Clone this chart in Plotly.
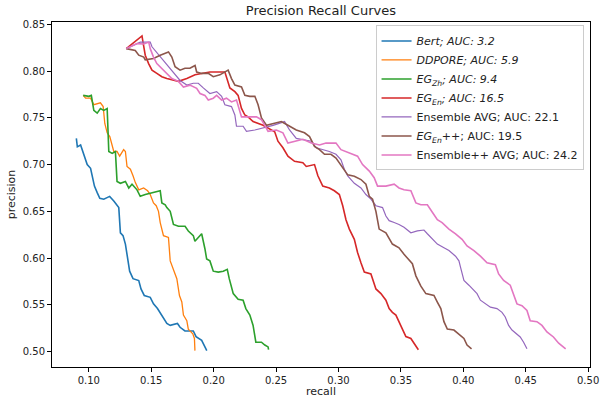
import plotly.graph_objects as go

# values
bert_x = [.0900, .0908, .0934, .0947, .0974, .0987, .1014, .1027, .1045, .1067, .1088, .1120, .1167,
          .1200, .1226, .1240, .1253, .1274, .1293, .1306, .1327, .1354, .1400, .1418, .1444, .1492,
          .1518, .1550, .1585, .1625, .1652, .1710, .1731, .1770, .1837, .1859, .1904, .1931, .1945]
bert_y = [.728, .719, .721, .716, .707, .700, .696, .689, .677, .670, .664, .663, .666,
          .661, .656, .654, .627, .624, .615, .602, .586, .578, .576, .567, .560, .558,
          .551, .546, .539, .530, .528, .530, .526, .522, .522, .516, .512, .505, .501]

ddpore_x = [.0955, .0974, .1014, .1040, .1093, .1115, .1128, .1147, .1168, .1187, .1200, .1226, .1247,
            .1279, .1293, .1306, .1333, .1354, .1372, .1400, .1439, .1471, .1492, .1518, .1540, .1558,
            .1572, .1598, .1638, .1652, .1678, .1705, .1726, .1745, .1758, .1785, .1797, .1833, .1846, .1850]
ddpore_y = [.774, .771, .771, .764, .766, .762, .744, .734, .730, .721, .714, .714, .709,
            .716, .714, .698, .695, .688, .681, .673, .675, .672, .668, .659, .656, .650,
            .638, .624, .622, .597, .588, .578, .560, .553, .539, .533, .524, .519, .514, .501]

egzh_x = [.0955, .1000, .1020, .1040, .1067, .1093, .1120, .1147, .1160, .1187, .1213, .1226, .1253,
          .1293, .1320, .1346, .1386, .1412, .1452, .1506, .1572, .1585, .1612, .1625, .1652, .1678,
          .1718, .1771, .1797, .1837, .1850, .1877, .1904, .1930, .1944, .1970, .1997, .2037, .2077,
          .2109, .2125, .2157, .2196, .2236, .2258, .2290, .2316, .2338, .2383, .2410, .2436, .2440]
egzh_y = [.774, .773, .774, .758, .755, .760, .758, .760, .714, .712, .714, .682, .680,
          .682, .675, .679, .673, .666, .668, .670, .672, .659, .657, .654, .650, .636,
          .634, .634, .629, .624, .618, .622, .626, .610, .599, .597, .586, .585, .586,
          .588, .578, .562, .556, .555, .546, .539, .528, .510, .510, .507, .505, .502]

egen_x = [.1300, .1426, .1434, .1452, .1479, .1506, .1545, .1585, .1625, .1678, .1718, .1785, .1851,
          .1904, .1970, .2050, .2090, .2130, .2170, .2196, .2223, .2250, .2276, .2316, .2356, .2396,
          .2489, .2515, .2555, .2595, .2648, .2715, .2742, .2808, .2835, .2874, .2927, .2967, .3007,
          .3034, .3060, .3087, .3127, .3153, .3180, .3207, .3260, .3286, .3300, .3340, .3380, .3406,
          .3432, .3460, .3485, .3512, .3540, .3580, .3605, .3632, .3640]
egen_y = [.824, .8376, .831, .817, .808, .801, .7975, .794, .792, .790, .789, .792, .796,
          .7975, .799, .799, .799, .782, .778, .774, .760, .753, .751, .746, .744, .742,
          .735, .725, .718, .709, .7035, .702, .698, .700, .688, .677, .675, .672, .668,
          .656, .641, .631, .620, .606, .595, .585, .583, .574, .567, .562, .555, .546,
          .542, .539, .532, .524, .516, .514, .509, .504, .502]

ens_x = [.1300, .1359, .1412, .1492, .1506, .1731, .1785, .1837, .1877, .1917, .1970, .2024, .2064,
         .2090, .2143, .2170, .2183, .2236, .2263, .2330, .2396, .2476, .2568, .2608, .2662, .2715,
         .2782, .2822, .2874, .2927, .2980, .3020, .3047, .3074, .3127, .3180, .3220, .3260, .3300,
         .3353, .3380, .3406, .3446, .3485, .3525, .3580, .3632, .3685, .3712, .3752, .3792, .3845,
         .3885, .3938, .3965, .3978, .4005, .4045, .4085, .4110, .4137, .4177, .4217, .4270, .4310,
         .4336, .4363, .4390, .4430, .4456, .4483, .4510]
ens_y = [.824, .828, .831, .831, .826, .790, .785, .787, .787, .782, .776, .778, .773,
         .764, .762, .753, .741, .741, .7355, .737, .739, .742, .746, .737, .728, .727,
         .725, .718, .716, .714, .711, .705, .695, .688, .680, .675, .668, .663, .656,
         .654, .645, .640, .638, .636, .633, .627, .629, .630, .626, .620, .615, .611,
         .608, .602, .597, .590, .576, .571, .565, .562, .555, .551, .5475, .546, .542,
         .537, .528, .523, .519, .5156, .510, .503]

egenpp_x = [.1300, .1372, .1400, .1440, .1452, .1518, .1572, .1638, .1665, .1691, .1731, .1770, .1810,
            .1851, .1864, .1904, .1957, .1997, .2050, .2116, .2143, .2170, .2223, .2250, .2290, .2330,
            .2356, .2383, .2423, .2476, .2542, .2595, .2662, .2728, .2768, .2808, .2848, .2888, .2940,
            .2980, .3007, .3047, .3074, .3127, .3180, .3220, .3247, .3273, .3300, .3326, .3380, .3432,
            .3485, .3525, .3592, .3620, .3660, .3700, .3765, .3792, .3820, .3845, .3872, .3925, .3965,
            .4005, .4030, .4066]
egenpp_y = [.824, .822, .817, .815, .812, .8135, .817, .8205, .815, .8046, .801, .803, .803,
            .806, .799, .7975, .7975, .794, .796, .801, .792, .785, .783, .774, .773, .773,
            .764, .750, .742, .744, .746, .742, .737, .734, .730, .7195, .716, .711, .711,
            .707, .702, .695, .689, .6876, .684, .679, .666, .663, .650, .631, .627, .615,
            .611, .604, .594, .581, .570, .562, .560, .553, .546, .532, .524, .523, .519,
            .514, .507, .503]

enspp_x = [.1300, .1386, .1440, .1480, .1492, .1518, .1545, .1585, .1625, .1665, .1718, .1758, .1810,
           .1864, .1891, .1930, .1957, .1997, .2024, .2064, .2103, .2143, .2183, .2210, .2223, .2290,
           .2343, .2383, .2410, .2436, .2502, .2555, .2595, .2662, .2715, .2782, .2848, .2900, .2980,
           .3020, .3060, .3113, .3153, .3193, .3247, .3286, .3313, .3380, .3446, .3485, .3525, .3580,
           .3620, .3660, .3712, .3752, .3792, .3830, .3885, .3938, .3990, .4030, .4085, .4137, .4190,
           .4257, .4283, .4323, .4376, .4430, .4470, .4510, .4536, .4590, .4630, .4670, .4722, .4764,
           .4800, .4820]
enspp_y = [.824, .8294, .829, .831, .824, .815, .808, .803, .7975, .792, .789, .783, .785,
           .7816, .776, .774, .769, .771, .774, .769, .771, .767, .769, .757, .751, .751,
           .751, .748, .741, .7355, .737, .734, .723, .725, .727, .723, .721, .723, .723,
           .716, .714, .711, .709, .700, .693, .686, .677, .677, .679, .675, .673, .672,
           .659, .657, .657, .649, .641, .638, .631, .626, .620, .613, .608, .602, .595,
           .593, .583, .576, .571, .551, .549, .544, .533, .532, .528, .521, .5156, .509,
           .505, .503]

names = ["<i>Bert; AUC: 3.2</i>",
         "<i>DDPORE; AUC: 5.9</i>",
         "<i>EG<sub>Zh</sub>; AUC: 9.4</i>",
         "<i>EG<sub>En</sub>; AUC: 16.5</i>",
         "Ensemble AVG; AUC: 22.1",
         "<i>EG<sub>En</sub></i>++; AUC: 19.5",
         "Ensemble++ AVG; AUC: 24.2"]
colors = ["#1f77b4", "#ff7f0e", "#2ca02c", "#d62728", "#9467bd", "#8c564b", "#e377c2"]
widths = [1.6, 1.3, 1.6, 1.6, 1.2, 1.6, 1.6]
xs = [bert_x, ddpore_x, egzh_x, egen_x, ens_x, egenpp_x, enspp_x]
ys = [bert_y, ddpore_y, egzh_y, egen_y, ens_y, egenpp_y, enspp_y]

fig = go.Figure()
for x, y, n, c, w in zip(xs, ys, names, colors, widths):
    fig.add_trace(go.Scatter(x=x, y=y, mode="lines", name=n,
                             line=dict(color=c, width=w)))

axis_common = dict(showline=True, linecolor="black", linewidth=1, mirror=True,
                   ticks="outside", ticklen=4, tickcolor="black", showgrid=False,
                   zeroline=False, tickfont=dict(size=10, color="#222"),
                   tickformat=".2f", automargin=False)

fig.update_xaxes(range=[0.0705, 0.5015], tickvals=[0.10, 0.15, 0.20, 0.25, 0.30, 0.35, 0.40, 0.45, 0.50],
                 title=dict(text="recall", font=dict(size=11, color="#222"), standoff=2),
                 **axis_common)
fig.update_yaxes(range=[0.4835, 0.8525], tickvals=[0.50, 0.55, 0.60, 0.65, 0.70, 0.75, 0.80, 0.85],
                 title=dict(text="precision", font=dict(size=11, color="#222"), standoff=4),
                 **axis_common)

fig.update_layout(
    width=602, height=398,
    margin=dict(l=52, r=12, t=22, b=31),
    paper_bgcolor="white", plot_bgcolor="white",
    font=dict(family="DejaVu Sans", color="#222"),
    title=dict(text="Precision Recall Curves", x=0.533, xanchor="center", y=0.975, yanchor="middle",
               font=dict(size=13, color="#222")),
    legend=dict(x=0.988, y=0.99, xanchor="right", yanchor="top",
                bgcolor="rgba(255,255,255,0.85)", bordercolor="#cccccc", borderwidth=1,
                font=dict(size=11, color="#222"), itemwidth=30, tracegroupgap=0),
    showlegend=True,
)

# drop the browser's default 8px body margin so the figure sits at the window's corner
fig.write_html("out.html", config={"displayModeBar": False},
               post_script="document.body.style.margin='0';")
